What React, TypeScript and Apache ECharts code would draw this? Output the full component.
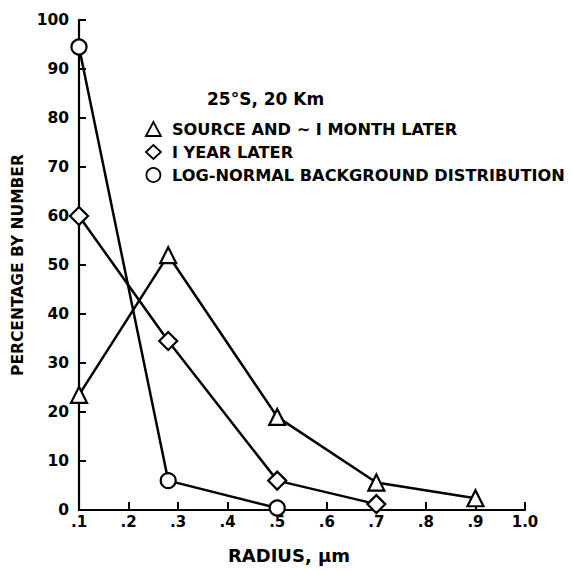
import React, { useEffect, useRef } from "react";
import * as echarts from "echarts";

const xTriangle = [0.1, 0.28, 0.5, 0.7, 0.9];
const yTriangle = [23.5, 52, 19, 5.6, 2.4];
const xDiamond = [0.1, 0.28, 0.5, 0.7];
const yDiamond = [60, 34.5, 6, 1.2];
const xCircle = [0.1, 0.28, 0.5];
const yCircle = [94.5, 6, 0.4];

const seriesNames = [
  "SOURCE AND \u223C I MONTH LATER",
  "I YEAR LATER",
  "LOG-NORMAL BACKGROUND DISTRIBUTION",
];
const annotation = "25\u00B0S, 20 Km";
const xTitle = "RADIUS, \u03BCm";
const yTitle = "PERCENTAGE BY NUMBER";

const FONT = "'DejaVu Sans', 'Liberation Sans', sans-serif";

function pairs(xs: number[], ys: number[]) {
  return xs.map((x, i) => [x, ys[i]]);
}

export default function App() {
  const ref = useRef<HTMLDivElement>(null);
  useEffect(() => {
    if (!ref.current) return;
    const chart = echarts.init(ref.current, null, { renderer: "svg" });
    const mk = (name: string, data: number[][], symbol: string, size: number) => ({
      name,
      type: "line",
      data,
      symbol,
      symbolSize: size,
      showAllSymbol: true,
      lineStyle: { color: "#000", width: 2.5 },
      itemStyle: { color: "#fff", borderColor: "#000", borderWidth: 2.2 },
      emphasis: { disabled: true },
      z: 3,
    });
    chart.setOption({
      animation: false,
      backgroundColor: "#fff",
      textStyle: { fontFamily: FONT },
      grid: { left: 79, right: 47, top: 20, bottom: 61 },
      title: {
        text: annotation,
        left: 207,
        top: 90,
        padding: 0,
        textStyle: { fontFamily: FONT, fontSize: 17, fontWeight: "bold", color: "#000" },
      },
      legend: {
        orient: "vertical",
        left: 145,
        top: 120,
        padding: 0,
        itemWidth: 15,
        itemHeight: 14,
        itemGap: 5,
        selectedMode: false,
        textStyle: {
          fontFamily: FONT,
          fontSize: 16.2,
          lineHeight: 18,
          fontWeight: "bold",
          color: "#000",
          padding: [0, 0, 0, 6],
        },
        itemStyle: { color: "#fff", borderColor: "#000", borderWidth: 1.8 },
        data: [
          { name: seriesNames[0], icon: "triangle" },
          { name: seriesNames[1], icon: "diamond" },
          { name: seriesNames[2], icon: "circle" },
        ],
      },
      xAxis: {
        type: "value",
        min: 0.1,
        max: 1.0,
        interval: 0.1,
        name: xTitle,
        nameLocation: "middle",
        nameGap: 36,
        nameTextStyle: {
          fontFamily: FONT,
          fontSize: 18,
          fontWeight: "bold",
          color: "#000",
          padding: [0, 26, 0, 0],
        },
        axisLine: { show: true, lineStyle: { color: "#000", width: 2.2 } },
        axisTick: { show: true, inside: true, length: 8, lineStyle: { color: "#000", width: 2 } },
        axisLabel: {
          margin: 4,
          fontFamily: FONT,
          fontSize: 15,
          fontWeight: "bold",
          color: "#000",
          formatter: (v: number) => (v > 0.99 ? "1.0" : "." + Math.round(v * 10)),
        },
        splitLine: { show: false },
      },
      yAxis: {
        type: "value",
        min: 0,
        max: 100,
        interval: 10,
        name: yTitle,
        nameLocation: "middle",
        nameGap: 52,
        nameRotate: 90,
        nameTextStyle: { fontFamily: FONT, fontSize: 15.5, fontWeight: "bold", color: "#000" },
        axisLine: { show: true, lineStyle: { color: "#000", width: 2.2 } },
        axisTick: { show: true, inside: true, length: 7, lineStyle: { color: "#000", width: 2 } },
        axisLabel: {
          margin: 10,
          fontFamily: FONT,
          fontSize: 15.5,
          fontWeight: "bold",
          color: "#000",
        },
        splitLine: { show: false },
      },
      series: [
        mk(seriesNames[0], pairs(xTriangle, yTriangle), "triangle", 16),
        mk(seriesNames[1], pairs(xDiamond, yDiamond), "diamond", 18),
        mk(seriesNames[2], pairs(xCircle, yCircle), "circle", 15),
      ],
    });
    return () => chart.dispose();
  }, []);
  return <div ref={ref} style={{ width: 572, height: 571, position: "absolute", left: 0, top: 0 }} />;
}
